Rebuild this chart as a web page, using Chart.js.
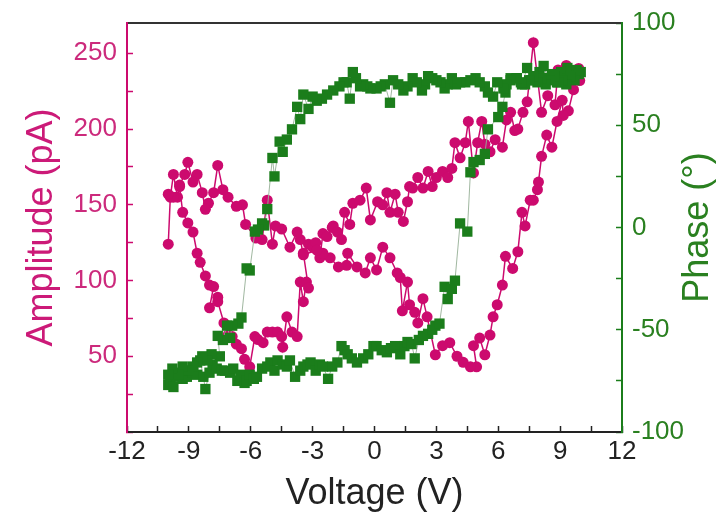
<!DOCTYPE html>
<html lang="en">
  <head>
    <meta charset="UTF-8" />
    <title>Amplitude / Phase vs Voltage</title>
    <style>
      html,
      body {
        margin: 0;
        padding: 0;
        background: #fff;
      }
      #wrap {
        width: 725px;
        height: 517px;
      }
    </style>
  </head>
  <body>
    <div id="wrap"><canvas id="loop" width="725" height="517"></canvas></div>

    <script src="https://cdn.jsdelivr.net/npm/chart.js"></script>
    <script>
      // amplitude loop, in sweep order (V, pA)
      const ampVoltage = [
        -10.0, -9.9, -9.75, -9.55, -9.45, -9.3, -9.05, -8.8, -8.6, -8.45, -8.2, -8.0, -7.8, -8.0, -7.6, -7.6,
        -7.3, -7.1, -6.9, -6.7, -6.45, -6.3, -6.05, -5.8, -5.65, -5.4, -5.2, -4.95, -4.7, -4.5, -4.45, -4.25,
        -4.0, -3.75, -3.6, -3.45, -3.3, -3.2, -3.45, -3.2, -3.0, -2.85, -2.65, -2.5, -2.3, -2.05, -2.0, -1.8,
        -1.6, -1.45, -1.2, -1.05, -0.7, -0.4, -0.2, 0.15, 0.4, 0.6, 0.75, 1.0, 1.15, 1.4, 1.6, 1.7, 1.85, 2.1,
        2.35, 2.6, 2.8, 3.0, 3.3, 3.55, 3.75, 3.9, 4.15, 4.4, 4.55, 4.8, 5.0, 5.2, 5.35, 5.6, 5.85, 6.2, 6.4,
        6.6, 6.8, 6.95, 7.2, 7.4, 7.7, 8.1, 8.4, 8.75, 8.9, 9.3, 9.55, 9.8, 9.95,
        9.9, 9.65, 9.4, 9.15, 9.1, 8.85, 8.6, 8.35, 8.1, 7.95, 7.9, 7.7, 7.55, 7.3, 7.15, 6.95, 6.7, 6.35,
        6.2, 5.95, 5.75, 5.6, 5.35, 5.1, 4.8, 4.95, 4.65, 4.3, 4.0, 3.65, 3.3, 2.95, 2.55, 2.35, 2.1, 1.95,
        1.7, 1.6, 1.35, 1.25, 1.1, 0.75, 0.4, 0.1, -0.2, -0.45, -0.85, -1.3, -1.35, -1.75, -2.15, -2.5, -2.8,
        -3.45, -3.6, -3.75, -4.1, -4.5, -4.8, -4.95, -5.2, -5.45, -5.75, -6.25, -6.4, -6.7, -7.1, -7.35, -7.6,
        -7.8, -8.05, -8.2, -8.35, -8.6, -8.8, -9.05, -9.2, -9.45, -9.75, -10.0,
      ];
      const ampValue = [
        124, 155, 170, 155, 162, 145, 138, 132, 118, 112, 103, 97, 96, 82, 89, 86,
        72, 64, 63, 58, 55, 48, 43, 63, 61, 59, 66, 66, 66, 63, 56, 76,
        66, 63, 99, 86, 99, 95, 118, 124, 122, 125, 115, 131, 129, 135, 136, 132,
        127, 145, 137, 151, 153, 161, 140, 152, 150, 158, 145, 157, 145, 139, 152, 162, 161, 168,
        161, 172, 162, 168, 172, 168, 174, 191, 181, 191, 205, 171, 191, 205, 190, 185, 193, 188, 206,
        211, 199, 200, 211, 218, 257, 211, 222, 216, 239, 242, 237, 239, 232,
        240, 226, 212, 209, 219, 205, 188, 196, 182, 165, 160, 153, 153, 136, 145, 119, 108, 116,
        97, 84, 76, 64, 51, 62, 57, 43, 43, 46, 50, 59, 57, 51, 76, 88, 72, 79,
        84, 99, 80, 102, 105, 115, 122, 107, 115, 105, 109, 118, 110, 109, 115, 118, 120,
        117, 127, 132, 122, 134, 136, 124, 153, 127, 128, 137, 150, 149, 155, 160, 176,
        158, 151, 147, 158, 170, 165, 178, 170, 163, 155, 157,
      ];

      // phase loop, in sweep order (V, degrees)
      const phaseVoltage = [
        -10.0, -9.9, -9.75, -9.6, -9.45, -9.3, -9.1, -8.95, -8.8, -8.6, -8.45, -8.3, -8.2, -8.0, -7.85, -7.65,
        -7.4, -7.25, -7.0, -6.85, -6.65, -6.5, -6.3, -6.2, -6.05, -5.85, -5.7, -5.45, -5.2, -5.05, -4.85, -4.7,
        -4.45, -4.25, -4.1, -3.85, -3.6, -3.45, -3.25, -3.1, -2.85, -2.65, -2.5, -2.25, -2.05, -1.8, -1.6, -1.45,
        -1.3, -1.1, -0.85, -0.55, -0.3, -0.05, 0.1, 0.35, 0.6, 0.8, 1.0, 1.25, 1.45, 1.6, 1.8, 1.95, 2.15, 2.35,
        2.6, 2.8, 2.95, 3.15, 3.4, 3.55, 3.75, 3.9, 4.15, 4.5, 4.65, 4.8, 5.1, 5.35, 5.5, 6.0, 6.2, 6.35, 6.6,
        6.9, 7.15, 7.4, 7.6, 7.8, 8.0, 8.2, 8.4, 8.6, 8.85, 9.05, 9.2, 9.35, 9.5, 9.65, 9.8, 10.0,
        9.9, 9.7, 9.5, 9.3, 9.1, 8.9, 8.7, 8.5, 8.3, 8.1, 7.9, 7.7, 7.5, 7.3, 7.1, 6.9, 6.6, 6.4, 6.25, 5.95,
        5.75, 5.5, 5.35, 5.1, 4.9, 4.65, 4.4, 4.15, 3.95, 3.75, 3.55, 3.4, 3.2, 3.0, 2.8, 2.6, 2.45, 2.3, 2.05,
        1.85, 1.6, 1.4, 1.15, 0.9, 0.75, 0.5, 0.3, 0.1, -0.2, -0.35, -0.55, -0.7, -0.9, -1.05, -1.2, -1.35,
        -1.5, -1.7, -2.0, -2.3, -2.55, -2.8, -3.0, -3.2, -3.45, -3.6, -3.75, -4.0, -4.25, -4.45, -4.6, -4.85,
        -4.95, -5.2, -5.35, -5.45, -5.65, -5.8, -6.05, -6.2, -6.45, -6.6, -6.9, -7.0, -7.15, -7.35, -7.6, -7.5,
        -7.9, -8.1, -8.35, -8.6, -8.8, -9.05, -9.3, -9.5, -9.8, -10.0,
      ];
      const phaseValue = [
        -77, -75, -78, -73, -71, -74, -73, -70, -71, -72, -65, -73, -79, -71, -67, -69,
        -70, -70, -71, -69, -75, -72, -76, -75, -72, -74, -73, -69, -68, -66, -70, -65,
        -67, -68, -65, -73, -70, -68, -67, -66, -70, -67, -68, -74, -68, -66, -58, -60,
        -62, -64, -66, -64, -62, -58, -58, -60, -61, -59, -58, -62, -58, -56, -57, -64, -55, -53,
        -52, -50, -48, -47, -29, -35, -30, -26, 2, -2, 27, 32, 33, 36, 48, 54, 59, 66, 73,
        73, 70, 78, 72, 74, 76, 79, 73, 75, 71, 76, 74, 78, 76, 73, 77, 76,
        75, 72, 74, 70, 72, 71, 74, 72, 70, 73, 71, 74, 72, 70, 71, 73, 72, 70, 68, 71,
        64, 66, 69, 71, 73, 72, 71, 71, 70, 73, 70, 68, 71, 72, 73, 74, 70, 67, 71,
        73, 69, 67, 70, 72, 61, 70, 69, 68, 68, 69, 70, 69, 73, 76, 63, 71,
        71, 69, 67, 65, 63, 62, 64, 58, 65, 53, 59, 48, 43, 37, 42, 25,
        34, 9, 1, 2, -1, -2, -21, -20, -44, -47, -48, -54, -48, -55, -53, -63,
        -62, -65, -63, -66, -68, -70, -68, -72, -69, -72,
      ];

      const magenta = "#cc0a6e";
      const green = "#1b7d1b";
      const fontFamily = "'Liberation Sans', Arial, sans-serif";

      const toPoints = (xs, ys) => xs.map((x, i) => ({ x: x, y: ys[i] }));

      // right-hand title reads bottom-to-top, like the left one
      const phaseTitle = {
        id: "phaseTitle",
        afterDraw(chart) {
          const s = chart.scales.yPhase;
          const c = chart.ctx;
          c.save();
          c.translate(s.right - 27, (s.top + s.bottom) / 2);
          c.rotate(-Math.PI / 2);
          c.textAlign = "center";
          c.textBaseline = "middle";
          c.fillStyle = "#2a8020";
          c.font = "36px " + fontFamily;
          c.fillText("Phase (°)", 0, 0);
          c.restore();
        },
      };

      const ctx = document.getElementById("loop").getContext("2d");

      new Chart(ctx, {
        type: "scatter",
        data: {
          datasets: [
            {
              label: "Phase",
              data: toPoints(phaseVoltage, phaseValue),
              yAxisID: "yPhase",
              showLine: true,
              borderColor: "rgba(150,175,150,0.9)",
              borderWidth: 1,
              pointStyle: "rect",
              pointRadius: 7.3,
              pointBackgroundColor: green,
              pointBorderColor: green,
              pointBorderWidth: 0,
              order: 0,
            },
            {
              label: "Amplitude",
              data: toPoints(ampVoltage, ampValue),
              yAxisID: "yAmp",
              showLine: true,
              borderColor: magenta,
              borderWidth: 1.5,
              pointStyle: "circle",
              pointRadius: 5.5,
              pointBackgroundColor: magenta,
              pointBorderColor: magenta,
              pointBorderWidth: 0,
              order: 1,
            },
          ],
        },
        options: {
          responsive: false,
          animation: false,
          devicePixelRatio: 1,
          layout: { padding: 0 },
          plugins: {
            legend: { display: false },
            tooltip: { enabled: false },
          },
          scales: {
            x: {
              type: "linear",
              position: "bottom",
              min: -12,
              max: 12,
              afterFit: (s) => {
                s.height = 85;
              },
              border: { color: "#222", width: 2 },
              grid: {
                drawOnChartArea: false,
                tickLength: -6,
                tickColor: "#222",
                tickWidth: 1.5,
              },
              ticks: {
                stepSize: 1.5,
                autoSkip: false,
                maxRotation: 0,
                padding: 10,
                color: "#222",
                font: { family: fontFamily, size: 26 },
                callback: (v) => (Math.abs(v % 3) < 1e-6 ? String(v) : ""),
              },
              title: {
                display: true,
                text: "Voltage (V)",
                color: "#222",
                font: { family: fontFamily, size: 36 },
                padding: { top: 0, bottom: 1 },
              },
            },
            xTop: {
              type: "linear",
              position: "top",
              min: -12,
              max: 12,
              afterFit: (s) => {
                s.height = 23;
              },
              border: { color: "#333", width: 2 },
              grid: { drawOnChartArea: false, drawTicks: false },
              ticks: { display: false },
            },
            yAmp: {
              type: "linear",
              position: "left",
              min: 0,
              max: 270,
              afterFit: (s) => {
                s.width = 127;
                s.paddingTop = 0;
                s.paddingBottom = 0;
              },
              border: { color: magenta, width: 2 },
              grid: {
                drawOnChartArea: false,
                tickLength: -6,
                tickWidth: 1.5,
                tickColor: (c) => (c.tick && c.tick.value > 250 ? "rgba(0,0,0,0)" : magenta),
              },
              ticks: {
                stepSize: 25,
                autoSkip: false,
                padding: 16,
                color: "#cc2a7c",
                font: { family: fontFamily, size: 26 },
                callback: (v) => (v % 50 === 0 && v > 0 && v <= 250 ? String(v) : ""),
              },
              title: {
                display: true,
                text: "Amplitude (pA)",
                color: "#cc1a78",
                font: { family: fontFamily, size: 36 },
                padding: { top: 20, bottom: 0 },
              },
            },
            yPhase: {
              type: "linear",
              position: "right",
              min: -100,
              max: 100,
              afterFit: (s) => {
                s.width = 103;
                s.paddingTop = 0;
                s.paddingBottom = 0;
              },
              border: { color: green, width: 2 },
              grid: {
                drawOnChartArea: false,
                tickLength: -6,
                tickWidth: 1.5,
                tickColor: green,
              },
              ticks: {
                stepSize: 25,
                autoSkip: false,
                padding: 16,
                color: "#2a8020",
                font: { family: fontFamily, size: 26 },
                callback: (v) => (v % 50 === 0 ? String(v) : ""),
              },
              title: { display: false },
            },
          },
        },
        plugins: [phaseTitle],
      });
    </script>
  </body>
</html>
